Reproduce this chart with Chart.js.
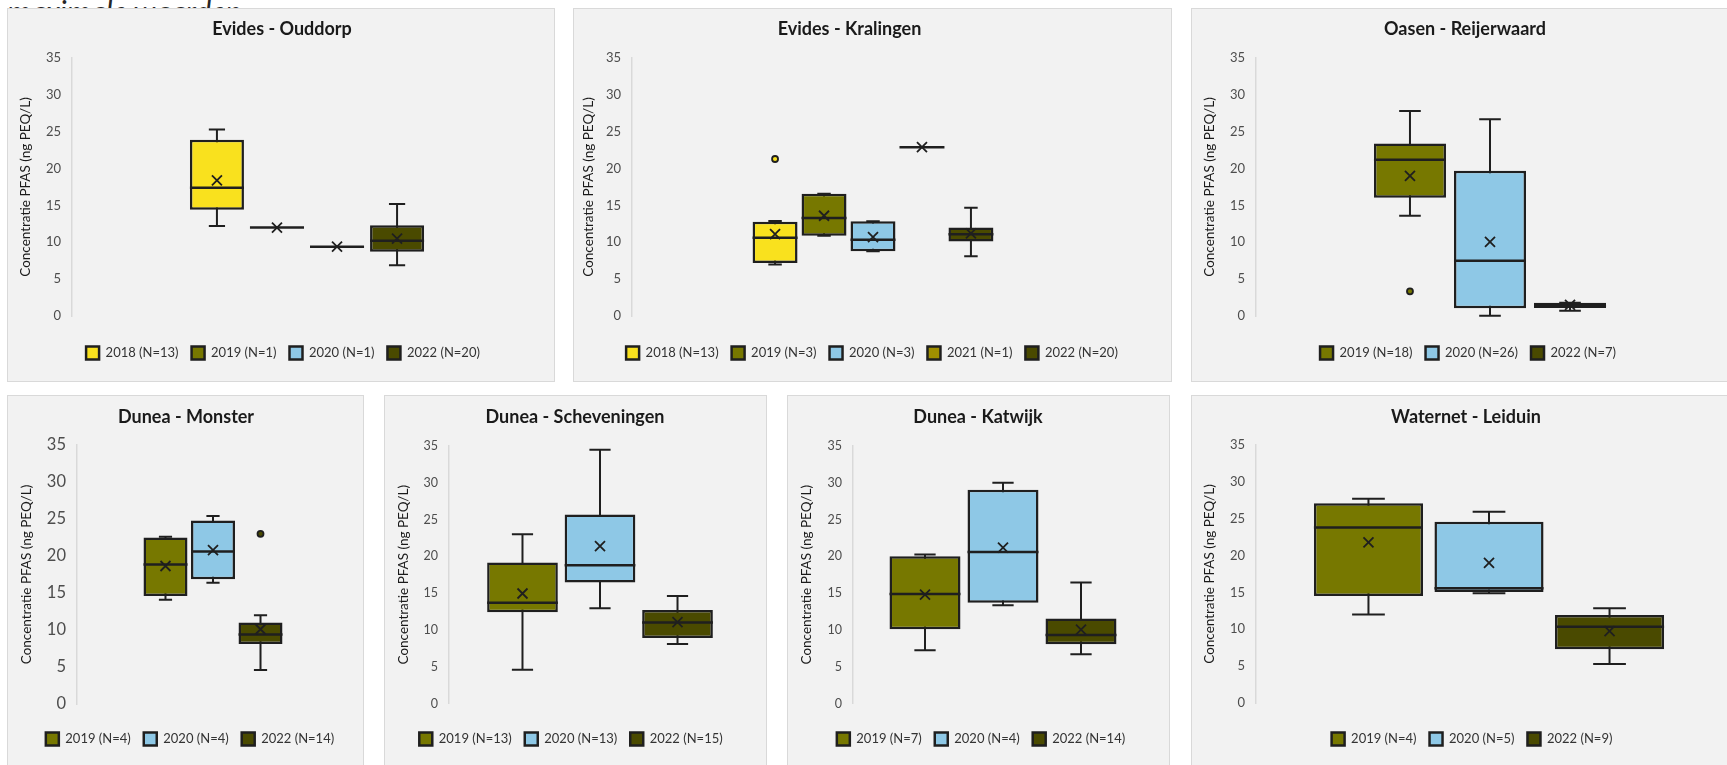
<!DOCTYPE html>
<html>
<head>
<meta charset="utf-8">
<title>PFAS boxplots</title>
<script src="https://cdn.jsdelivr.net/npm/chart.js@4.4.1/dist/chart.umd.min.js"></script>
<style>
  html, body { margin: 0; padding: 0; }
  body { width: 1727px; height: 765px; overflow: hidden; position: relative; background: #fff; font-family: Lato, sans-serif; }
  .intro { position: absolute; left: 7px; top: -4px; font-style: italic; font-size: 30px; line-height: 30px; color: #262626; white-space: nowrap; }
  .panel { position: absolute; background: #f2f2f2; border: 1px solid #d9d9d9; box-sizing: border-box; }
  .panel canvas { position: absolute; left: -1px; top: -1px; }
</style>
</head>
<body>
<div class="intro">maximale waarden.</div>
<script>
// per reeks: [min, q1, mediaan, q3, max, gemiddelde]
const ouddorpLabels = ['2018 (N=13)', '2019 (N=1)', '2020 (N=1)', '2022 (N=20)'];
const ouddorpStats = [
    [12.2, 14.4, 17.4, 23.9, 25.3, 18.4],
    [12.0, 12.0, 12.0, 12.0, 12.0, 12.0],
    [9.4, 9.4, 9.4, 9.4, 9.4, 9.4],
    [6.9, 8.7, 10.2, 12.3, 15.2, 10.5]
];
const ouddorpOutliers = [[], [], [], []];

const kralingenLabels = ['2018 (N=13)', '2019 (N=3)', '2020 (N=3)', '2021 (N=1)', '2022 (N=20)'];
const kralingenStats = [
    [7.0, 7.2, 10.6, 12.8, 12.9, 11.1],
    [10.9, 10.9, 13.3, 16.6, 16.6, 13.6],
    [8.8, 8.8, 10.35, 12.85, 12.85, 10.7],
    [22.9, 22.9, 22.9, 22.9, 22.9, 22.9],
    [8.1, 10.1, 11.1, 12.0, 14.7, 11.2]
];
const kralingenOutliers = [[21.3], [], [], [], []];

const reijerwaardLabels = ['2019 (N=18)', '2020 (N=26)', '2022 (N=7)'];
const reijerwaardStats = [
    [13.6, 16.05, 21.2, 23.4, 27.8, 19.0],
    [0.05, 1.04, 7.5, 19.7, 26.7, 10.05],
    [0.7, 1.1, 1.4, 1.8, 1.8, 1.5]
];
const reijerwaardOutliers = [[3.35], [], []];

const monsterLabels = ['2019 (N=4)', '2020 (N=4)', '2022 (N=14)'];
const monsterStats = [
    [14.1, 14.6, 18.85, 22.5, 22.6, 18.65],
    [16.4, 16.85, 20.6, 24.8, 25.4, 20.8],
    [4.6, 8.1, 9.4, 11.0, 12.0, 10.1]
];
const monsterOutliers = [[], [], [23.0]];

const schevLabels = ['2019 (N=13)', '2020 (N=13)', '2022 (N=15)'];
const schevStats = [
    [4.6, 12.4, 13.7, 19.15, 23.0, 14.95],
    [12.95, 16.45, 18.8, 25.7, 34.5, 21.4],
    [8.1, 8.9, 11.0, 12.7, 14.6, 11.05]
];
const schevOutliers = [[], [], []];

const katwijkLabels = ['2019 (N=7)', '2020 (N=4)', '2022 (N=14)'];
const katwijkStats = [
    [7.25, 10.1, 14.9, 20.0, 20.25, 14.8],
    [13.35, 13.7, 20.6, 29.05, 30.0, 21.2],
    [6.7, 8.05, 9.3, 11.55, 16.45, 10.05]
];
const katwijkOutliers = [[], [], []];

const leiduinLabels = ['2019 (N=4)', '2020 (N=5)', '2022 (N=9)'];
const leiduinStats = [
    [12.0, 14.5, 23.8, 27.1, 27.7, 21.8],
    [14.9, 15.05, 15.55, 24.6, 25.95, 19.0],
    [5.3, 7.3, 10.35, 11.95, 12.85, 9.75]
];
const leiduinOutliers = [[], [], []];

const yTicks = [0, 35, 5]; // min, max, stap
const yTitle = 'Concentratie PFAS (ng PEQ/L)';

const yearColors = {
    '2018': '#f9e11e',
    '2019': '#777800',
    '2020': '#8ec8e6',
    '2021': '#a08f00',
    '2022': '#4a4a00'
};
const lineColor = '#1f1f1f';

// plaatsing van de panelen (area = links, rechts, boven, onder binnen het paneel)
const panels = [
    { title: 'Evides - Ouddorp', labels: ouddorpLabels, stats: ouddorpStats, outliers: ouddorpOutliers,
      left: 7, top: 8, w: 548, h: 374, area: [65, 535, 50, 308], titleX: 275, titleY: 21, legendX: 276, legendY: 345,
      cat: 0.511, bar: 0.9, tick: 13, yTitleX: 19 },
    { title: 'Evides - Kralingen', labels: kralingenLabels, stats: kralingenStats, outliers: kralingenOutliers,
      left: 573, top: 8, w: 599, h: 374, area: [59, 541, 50, 308], titleX: 276.5, titleY: 21, legendX: 299, legendY: 345,
      cat: 0.508, bar: 0.918, tick: 13, yTitleX: 16 },
    { title: 'Oasen - Reijerwaard', labels: reijerwaardLabels, stats: reijerwaardStats, outliers: reijerwaardOutliers,
      left: 1191, top: 8, w: 560, h: 374, area: [65, 533, 50, 308], titleX: 274, titleY: 21, legendX: 277, legendY: 345,
      cat: 0.513, bar: 0.9, tick: 13, yTitleX: 19 },
    { title: 'Dunea - Monster', labels: monsterLabels, stats: monsterStats, outliers: monsterOutliers,
      left: 7, top: 395, w: 357, h: 380, area: [70, 342, 50, 309], titleX: 179, titleY: 22, legendX: 183, legendY: 344,
      cat: 0.524, bar: 0.926, tick: 16.5, yTitleX: 20 },
    { title: 'Dunea - Scheveningen', labels: schevLabels, stats: schevStats, outliers: schevOutliers,
      left: 384, top: 395, w: 383, h: 380, area: [65, 367, 51, 308.5], titleX: 191, titleY: 22, legendX: 187, legendY: 344,
      cat: 0.77, bar: 0.912, tick: 12.5, yTitleX: 20 },
    { title: 'Dunea - Katwijk', labels: katwijkLabels, stats: katwijkStats, outliers: katwijkOutliers,
      left: 787, top: 395, w: 383, h: 380, area: [66, 366, 51, 308.5], titleX: 191, titleY: 22, legendX: 194, legendY: 344,
      cat: 0.78, bar: 0.91, tick: 12.5, yTitleX: 20 },
    { title: 'Waternet - Leiduin', labels: leiduinLabels, stats: leiduinStats, outliers: leiduinOutliers,
      left: 1191, top: 395, w: 560, h: 380, area: [65, 531, 50, 308], titleX: 275, titleY: 22, legendX: 281, legendY: 344,
      cat: 0.776, bar: 0.905, tick: 13, yTitleX: 19 }
];

Chart.defaults.font.family = 'Lato, sans-serif';

function eachBox(chart, fn) {
    const y = chart.scales.y;
    chart.data.datasets.forEach((ds, i) => {
        const bar = chart.getDatasetMeta(i).data[0];
        if (!bar) return;
        const p = bar.getProps(['x', 'width'], true);
        fn(ds, p.x, p.width, y);
    });
}

// snorharen, mediaan, gemiddelde (x) en uitschieters
const boxPlugin = {
    id: 'boxWhisker',
    beforeDatasetsDraw(chart) {
        const ctx = chart.ctx;
        ctx.save();
        ctx.strokeStyle = lineColor;
        ctx.lineWidth = 2;
        eachBox(chart, (ds, x, w, y) => {
            const [mn, q1, md, q3, mx] = ds.stats;
            if (mx <= mn) return;
            const cw = w * 0.3;
            const yMin = y.getPixelForValue(mn);
            const yMax = y.getPixelForValue(mx);
            ctx.beginPath();
            ctx.moveTo(x, yMin); ctx.lineTo(x, yMax);
            ctx.moveTo(x - cw / 2, yMin); ctx.lineTo(x + cw / 2, yMin);
            ctx.moveTo(x - cw / 2, yMax); ctx.lineTo(x + cw / 2, yMax);
            ctx.stroke();
        });
        ctx.restore();
    },
    afterDatasetsDraw(chart) {
        const ctx = chart.ctx;
        ctx.save();
        ctx.strokeStyle = lineColor;
        eachBox(chart, (ds, x, w, y) => {
            const md = ds.stats[2];
            const mean = ds.stats[5];
            const yMd = y.getPixelForValue(md);
            ctx.lineWidth = 2.5;
            ctx.beginPath();
            ctx.moveTo(x - w / 2, yMd); ctx.lineTo(x + w / 2, yMd);
            ctx.stroke();

            const yMean = y.getPixelForValue(mean);
            const s = 5;
            ctx.lineWidth = 1.8;
            ctx.beginPath();
            ctx.moveTo(x - s, yMean - s); ctx.lineTo(x + s, yMean + s);
            ctx.moveTo(x - s, yMean + s); ctx.lineTo(x + s, yMean - s);
            ctx.stroke();

            ds.outliers.forEach(v => {
                ctx.beginPath();
                ctx.arc(x, y.getPixelForValue(v), 3, 0, Math.PI * 2);
                ctx.fillStyle = ds.backgroundColor;
                ctx.fill();
                ctx.lineWidth = 1.8;
                ctx.stroke();
            });
        });
        ctx.restore();
    }
};

// titel en legenda op hun plek in het paneel zetten
const placePlugin = {
    id: 'panelPlace',
    afterLayout(chart, args, opts) {
        const t = chart.titleBlock;
        if (t) {
            const hh = t.height;
            const tw = t.right - t.left;
            t.top = opts.titleY - hh / 2;
            t.bottom = t.top + hh;
            t.left = opts.titleX - tw / 2;
            t.right = t.left + tw;
        }
        const lg = chart.legend;
        if (lg) {
            lg.update(3000, 100, { left: 0, right: 0, top: 0, bottom: 0 });
            const pad = lg.options.labels.padding;
            lg.left = opts.legendX - 1500;
            lg.right = opts.legendX + 1500;
            lg.width = 3000;
            lg.top = opts.legendY - pad - 6.5;
            lg.height = 50;
            lg.bottom = lg.top + 50;
        }
    }
};

panels.forEach(p => {
    const div = document.createElement('div');
    div.className = 'panel';
    div.style.left = p.left + 'px';
    div.style.top = p.top + 'px';
    div.style.width = p.w + 'px';
    div.style.height = p.h + 'px';
    const canvas = document.createElement('canvas');
    canvas.width = p.w;
    canvas.height = p.h;
    canvas.style.width = p.w + 'px';
    canvas.style.height = p.h + 'px';
    div.appendChild(canvas);
    document.body.appendChild(div);

    const [aL, aR, aT, aB] = p.area;

    new Chart(canvas, {
        type: 'bar',
        data: {
            labels: [''],
            datasets: p.labels.map((lab, i) => ({
                label: lab,
                data: [[p.stats[i][1], p.stats[i][3]]],
                stats: p.stats[i],
                outliers: p.outliers[i],
                backgroundColor: yearColors[lab.slice(0, 4)],
                borderColor: lineColor,
                borderWidth: 2.5,
                borderSkipped: false,
                categoryPercentage: p.cat,
                barPercentage: p.bar
            }))
        },
        options: {
            responsive: false,
            animation: false,
            events: [],
            layout: {
                padding: { left: 0, right: 0, top: aT - 21.6, bottom: p.h - aB - 1 }
            },
            plugins: {
                title: {
                    display: true,
                    text: p.title,
                    color: '#1a1a1a',
                    font: { size: 18, weight: 'bold' },
                    padding: 0
                },
                legend: {
                    position: 'bottom',
                    maxHeight: 1,
                    labels: {
                        boxWidth: 13,
                        boxHeight: 13,
                        padding: 13,
                        color: '#333333',
                        font: { size: 13 }
                    }
                },
                tooltip: { enabled: false },
                panelPlace: { titleX: p.titleX, titleY: p.titleY, legendX: p.legendX, legendY: p.legendY }
            },
            scales: {
                x: { display: false },
                y: {
                    min: yTicks[0],
                    max: yTicks[1],
                    ticks: { stepSize: yTicks[2], padding: 11, color: '#4d4d4d', font: { size: p.tick } },
                    grid: { display: false, drawTicks: false },
                    border: { color: '#d9d9d9', width: 1.5 },
                    title: {
                        display: true,
                        text: yTitle,
                        color: '#1a1a1a',
                        font: { size: 13.5 },
                        padding: { top: p.yTitleX - 8, bottom: 0 }
                    },
                    afterFit: s => { s.width = aL; }
                },
                y2: {
                    type: 'linear',
                    position: 'right',
                    ticks: { display: false },
                    grid: { display: false },
                    border: { display: false },
                    afterFit: s => { s.width = p.w - aR; }
                }
            }
        },
        plugins: [boxPlugin, placePlugin]
    });
});
</script>
</body>
</html>
